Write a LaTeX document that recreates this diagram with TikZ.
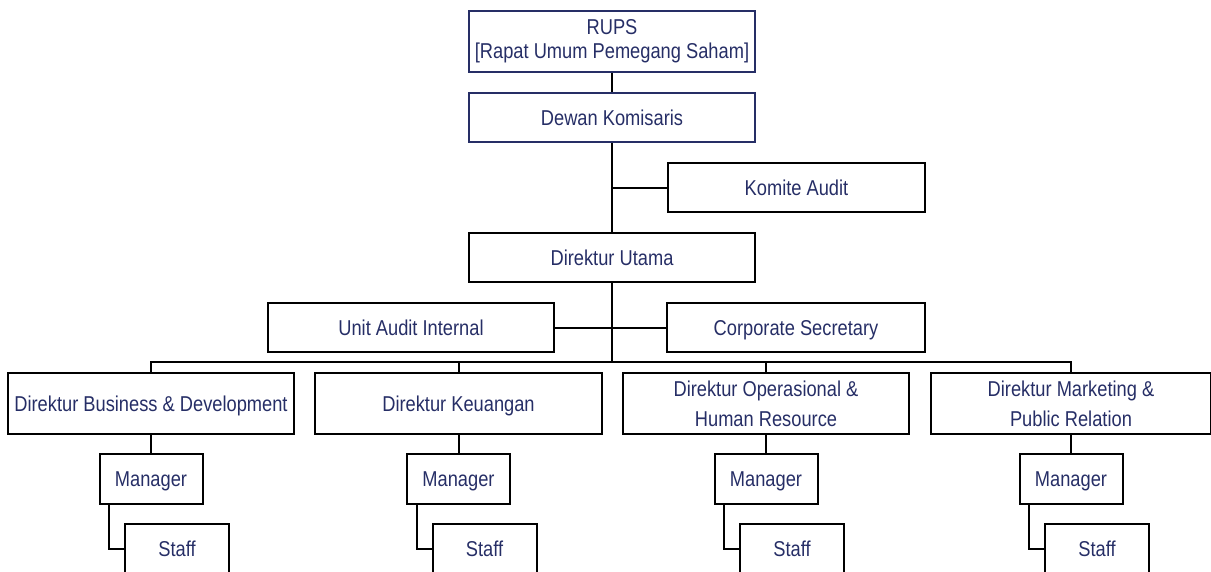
\documentclass[tikz,border=0pt]{standalone}
\usepackage{fontspec}
\setmainfont{Liberation Sans}[FakeStretch=0.85]
\definecolor{navyblue}{RGB}{38,46,102}
\tikzset{
  box/.style={draw=black,line width=2pt,text=navyblue,inner sep=0pt,align=center,
    font=\fontsize{21.5}{24}\selectfont},
  oneline/.style={text height=15.5pt,text depth=0pt},
  topbox/.style={box,draw=navyblue,minimum width=286pt},
  dirbox/.style={box,minimum height=61pt,font=\fontsize{21.5}{30}\selectfont},
  mgrbox/.style={box,oneline,minimum width=103pt,minimum height=50pt},
  staffbox/.style={box,oneline,minimum width=104pt,minimum height=50pt}
}
\begin{document}
\begin{tikzpicture}[x=1pt,y=-1pt,line width=2pt]
\clip(0,0)rectangle(1211,571);
\node[topbox,minimum height=61pt](rups)at(612,41.5){RUPS\\{[}Rapat Umum Pemegang Saham{]}};
\node[topbox,oneline,minimum height=49pt](dewan)at(612,117.5){Dewan Komisaris};
\node[box,oneline,minimum width=257pt,minimum height=49pt](komite)at(796.5,187.5){Komite Audit};
\node[box,oneline,minimum width=286pt,minimum height=49pt](dirut)at(612,257.5){Direktur Utama};
\node[box,oneline,minimum width=286pt,minimum height=49pt](uai)at(411,327.5){Unit Audit Internal};
\node[box,oneline,minimum width=258pt,minimum height=49pt](corsec)at(796,327.5){Corporate Secretary};
\coordinate(bus)at(612,362);
\node[dirbox,oneline,minimum width=286pt](dbd)at(151,403.5){Direktur Business \& Development};
\node[dirbox,oneline,minimum width=287pt](dkeu)at(458.5,403.5){Direktur Keuangan};
\node[dirbox,minimum width=286pt](dops)at(766,403.5){Direktur Operasional \&\\Human Resource};
\node[dirbox,minimum width=280pt](dmkt)at(1071,403.5){Direktur Marketing \&\\Public Relation};
\node[mgrbox](mbd)at(151,479){Manager};
\node[mgrbox](mkeu)at(458.5,479){Manager};
\node[mgrbox](mops)at(766,479){Manager};
\node[mgrbox](mmkt)at(1071,479){Manager};
\node[staffbox](sbd)at(177,549){Staff};
\node[staffbox](skeu)at(484.5,549){Staff};
\node[staffbox](sops)at(792,549){Staff};
\node[staffbox](smkt)at(1097,549){Staff};
\draw(rups)--(dewan);
\draw(dewan)--(dirut);
\draw(komite.west)--(komite.west-|dewan.south);
\draw(dirut.south)--(bus);
\draw(uai)--(corsec);
\draw(dbd.north)|-(bus)-|(dmkt.north);
\draw(dkeu.north)--(dkeu.north|-bus);
\draw(dops.north)--(dops.north|-bus);
\draw(dbd)--(mbd);
\draw(dkeu)--(mkeu);
\draw(dops)--(mops);
\draw(dmkt)--(mmkt);
\draw([xshift=10.5pt]mbd.south west)|-(sbd.west);
\draw([xshift=10.5pt]mkeu.south west)|-(skeu.west);
\draw([xshift=10.5pt]mops.south west)|-(sops.west);
\draw([xshift=10.5pt]mmkt.south west)|-(smkt.west);
\end{tikzpicture}
\end{document}
